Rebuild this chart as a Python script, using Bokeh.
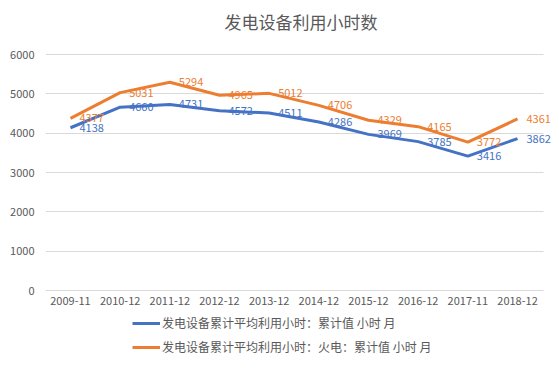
from bokeh.plotting import figure
from bokeh.models import Range1d, ColumnDataSource, Legend, LegendItem
from bokeh.core.properties import value
from bokeh.embed import file_html
from bokeh.resources import INLINE

categories = ["2009-11", "2010-12", "2011-12", "2012-12", "2013-12",
              "2014-12", "2015-12", "2016-12", "2017-11", "2018-12"]
total_hours = [4138, 4660, 4731, 4572, 4511, 4286, 3969, 3785, 3416, 3862]
thermal_hours = [4377, 5031, 5294, 4965, 5012, 4706, 4329, 4165, 3772, 4361]
y_ticks = [0, 1000, 2000, 3000, 4000, 5000, 6000]
series_names = ["发电设备累计平均利用小时：累计值 小时 月",
                "发电设备累计平均利用小时：火电：累计值 小时 月"]
title_text = "发电设备利用小时数"

BLUE = "#4472C4"
ORANGE = "#ED7D31"
GREY = "#595959"
GRID = "#d9d9d9"
FONT = "Noto Sans CJK SC"

idx = list(range(len(categories)))

p = figure(width=559, height=371, output_backend="svg", toolbar_location=None,
           x_range=Range1d(-0.503, 9.785), y_range=Range1d(-1983, 6534),
           x_axis_location=None,
           min_border_left=45, min_border_right=3, min_border_top=33, min_border_bottom=3)
p.title.text = title_text
p.title.align = "center"
p.title.text_font = FONT
p.title.text_font_size = "17px"
p.title.text_font_style = "normal"
p.title.text_color = GREY
p.title.offset = 0
p.title.standoff = 0
p.outline_line_color = None

src = ColumnDataSource(dict(x=idx, cat=categories, base=[0] * len(idx),
                            a=total_hours, b=thermal_hours,
                            la=[str(v) for v in total_hours],
                            lb=[str(v) for v in thermal_hours]))

r1 = p.line("x", "a", source=src, line_color=BLUE, line_width=3)
r2 = p.line("x", "b", source=src, line_color=ORANGE, line_width=3)
p.text("x", "a", text="la", source=src, x_offset=9, text_baseline="middle",
       text_align="left", text_font=value(FONT), text_font_size="11px", text_color=BLUE)
p.text("x", "b", text="lb", source=src, x_offset=9, text_baseline="middle",
       text_align="left", text_font=value(FONT), text_font_size="11px", text_color=ORANGE)

# category labels under the zero line
p.text("x", "base", text="cat", source=src, y_offset=10, text_baseline="middle",
       text_align="center", text_font=value(FONT), text_font_size="11px", text_color=GREY)

p.yaxis.ticker = y_ticks
p.yaxis.axis_line_color = None
p.yaxis.major_tick_line_color = None
p.yaxis.minor_tick_line_color = None
p.yaxis.major_label_text_color = GREY
p.yaxis.major_label_text_font = FONT
p.yaxis.major_label_text_font_size = "11px"
p.yaxis.major_label_standoff = 5

p.xgrid.grid_line_color = None
p.ygrid.grid_line_color = GRID
try:
    p.ygrid.cross_bounds = (-0.503, 9.523)
except Exception:
    pass

legend = Legend(items=[LegendItem(label=series_names[0], renderers=[r1]),
                       LegendItem(label=series_names[1], renderers=[r2])],
                orientation="vertical", location=(87, 13),
                label_text_font=FONT, label_text_font_size="12px",
                label_text_color=GREY, glyph_width=28, glyph_height=14,
                label_height=14, spacing=7, padding=0, margin=0,
                border_line_color=None, label_standoff=2,
                background_fill_alpha=0)
p.add_layout(legend, "center")

open("out.html", "w").write(file_html(p, INLINE))
